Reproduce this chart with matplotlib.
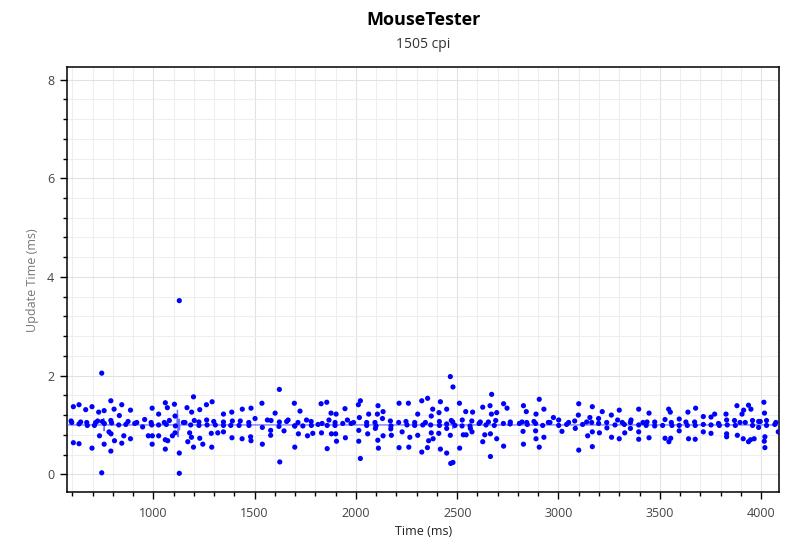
import numpy as np
import matplotlib
matplotlib.use("Agg")
import matplotlib.pyplot as plt
from matplotlib.ticker import MultipleLocator

plt.rcParams["font.family"] = ["Open Sans", "DejaVu Sans"]

TITLE = "MouseTester"
SUBTITLE = "1505 cpi"
X_LABEL = "Time (ms)"
Y_LABEL = "Update Time (ms)"

# update events: time (ms), update interval (ms)
time_ms = [
    # 575 - 1725 ms
    745, 605, 633, 666, 697, 730, 757, 790, 806, 832, 844, 887, 994, 1026, 1059, 1069,
    1104, 1107, 1166, 1189, 1198, 1229, 1262, 1290, 1346, 1387, 1439, 1482, 1536, 1601,
    1622, 1696, 1724,
    594, 597, 633, 641, 671, 674, 709, 715, 725, 748, 758, 790, 794, 829, 864, 875, 908,
    918, 947, 957, 989, 992, 1026, 1054, 1064, 1079, 1109, 1148, 1156, 1184, 1202, 1225,
    1225, 1263, 1265, 1298, 1306, 1346, 1346, 1390, 1382, 1429, 1423, 1471, 1472, 1502,
    1538, 1563, 1581, 1622, 1620, 1658, 1665, 1714, 1698,
    781, 791, 734, 854, 887, 808, 757, 844, 605, 633, 697, 790, 975, 995, 994, 1026, 1059,
    1071, 1059, 1094, 1107, 1179, 1188, 1170, 1229, 1198, 1244, 1286, 1288, 1318, 1346,
    1388, 1438, 1480, 1482, 1538, 1579, 1579, 1645, 1698, 1698, 1716, 1624, 1128, 745,
    1128, 1128,
    # 1725 - 2850 ms
    2466, 2479, 2670, 1828, 1856, 2022, 2012, 2109, 2213, 2259, 2325, 2354, 2417, 2379,
    1946, 1877, 1902, 2134, 2106, 2063, 2017, 2131, 2305, 2372, 2410, 2448, 2511, 2542,
    2576, 2626, 2662, 2669, 2695, 2729, 2746, 2827, 2841, 1756, 1779, 1867, 1958, 2525,
    2572, 2690,
    1738, 1780, 1813, 1833, 1858, 1897, 1897, 1935, 1976, 1988, 2053, 2053, 2094, 2099,
    2170, 2173, 2211, 2247, 2252, 2290, 2290, 2330, 2343, 2369, 2412, 2412, 2448, 2471,
    2478, 2489, 2524, 2563, 2608, 2614, 2642, 2654, 2683, 2728, 2761, 2762, 2807, 2820,
    2843, 2846,
    2825, 2827, 2729, 2695, 2664, 2636, 2626, 2664, 2573, 2565, 2530, 2544, 2512, 2466,
    2468, 2479, 2448, 2448, 2417, 2409, 2381, 2372, 2359, 2353, 2325, 2305, 2266, 2261,
    2228, 2213, 2175, 2172, 2134, 2111, 2108, 2096, 2058, 2014, 2014, 2022, 1948, 1904,
    1900, 1879, 1858, 1830, 1787, 1761,
    # 2850 - 4090 ms
    2905, 2889, 2928, 3100, 3098, 3167, 3216, 3261, 3300, 3396, 3447, 3544, 3552, 3639,
    3677, 3715, 3753, 3771, 3827, 3881, 3906, 3914, 3938, 3950, 4014, 4017, 2975, 3001,
    3155, 3198, 3292, 3358, 3526, 3596, 3830, 3869, 3958, 3988, 4027,
    2879, 2887, 2922, 2950, 2958, 3001, 3040, 3050, 3080, 3083, 3119, 3139, 3164, 3198,
    3238, 3279, 3315, 3325, 3355, 3396, 3417, 3437, 3433, 3475, 3475, 3514, 3557, 3560,
    3596, 3629, 3636, 3672, 3675, 3715, 3753, 3790, 3794, 3833, 3873, 3896, 3922, 3958,
    3996, 3988, 4027, 4068, 4073,
    2887, 2889, 2905, 2928, 3017, 3100, 3167, 3144, 3167, 3202, 3239, 3262, 3300, 3327,
    3355, 3396, 3396, 3447, 3526, 3545, 3554, 3596, 3642, 3675, 3715, 3753, 3830, 3830,
    3883, 3912, 3938, 3948, 3966, 4019, 4016, 4019, 4085,
]
update_ms = [
    2.05, 1.37, 1.41, 1.31, 1.37, 1.26, 1.29, 1.49, 1.32, 1.19, 1.41, 1.30, 1.34, 1.22, 1.45, 1.35,
    1.42, 1.18, 1.35, 1.26, 1.57, 1.31, 1.41, 1.47, 1.22, 1.26, 1.32, 1.34, 1.44, 1.24,
    1.72, 1.44, 1.28,
    1.08, 1.05, 1.02, 1.06, 1.05, 0.99, 0.99, 1.05, 1.08, 1.07, 1.03, 1.09, 1.04, 1.00, 1.01, 1.07, 1.03,
    1.05, 0.96, 1.11, 1.05, 1.00, 1.00, 1.05, 1.01, 1.09, 0.98, 1.05, 1.05, 1.00, 1.09, 1.06,
    0.99, 1.10, 1.00, 1.07, 1.00, 1.06, 0.99, 1.08, 0.99, 1.08, 0.99, 1.05, 0.99, 1.13,
    0.95, 1.10, 1.09, 1.06, 0.97, 1.07, 1.10, 1.05, 0.98,
    0.86, 0.82, 0.78, 0.78, 0.72, 0.68, 0.61, 0.63, 0.64, 0.62, 0.53, 0.47, 0.78, 0.78, 0.61, 0.78, 0.70,
    0.68, 0.51, 0.78, 0.84, 0.84, 0.75, 0.66, 0.73, 0.55, 0.61, 0.83, 0.55, 0.84, 0.86,
    0.74, 0.72, 0.76, 0.68, 0.61, 0.89, 0.79, 0.88, 0.98, 0.55, 0.82, 0.25, 0.43, 0.03,
    0.02, 3.52,
    1.98, 1.77, 1.62, 1.43, 1.46, 1.49, 1.41, 1.39, 1.44, 1.44, 1.49, 1.54, 1.47, 1.32,
    1.33, 1.24, 1.22, 1.27, 1.22, 1.22, 1.15, 1.13, 1.22, 1.18, 1.25, 1.32, 1.44, 1.27,
    1.26, 1.36, 1.39, 1.22, 1.25, 1.43, 1.34, 1.39, 1.27, 1.10, 1.07, 1.10, 1.10, 1.10,
    1.08, 1.09,
    0.98, 0.99, 1.01, 1.03, 0.99, 1.05, 0.99, 1.03, 1.03, 1.05, 1.05, 0.99, 1.05, 0.98,
    1.08, 0.98, 1.05, 1.07, 1.00, 1.05, 0.99, 1.00, 1.05, 1.00, 1.07, 0.99, 1.02, 1.09,
    1.06, 0.99, 0.98, 0.98, 1.03, 1.06, 1.00, 1.06, 0.99, 1.03, 1.02, 1.06, 1.03, 1.06,
    1.05, 1.01,
    0.87, 0.61, 0.57, 0.72, 0.82, 0.80, 0.66, 0.36, 0.86, 0.93, 0.80, 0.80, 0.53, 0.79,
    0.22, 0.24, 0.43, 0.93, 0.51, 0.83, 0.72, 0.84, 0.68, 0.54, 0.45, 0.79, 0.75, 0.55,
    0.86, 0.54, 0.79, 0.92, 0.78, 0.53, 0.69, 0.93, 0.82, 0.89, 0.67, 0.32, 0.74, 0.67,
    0.82, 0.82, 0.52, 0.84, 0.83, 0.78,
    1.52, 1.22, 1.32, 1.43, 1.20, 1.37, 1.27, 1.20, 1.30, 1.32, 1.24, 1.32, 1.26, 1.26,
    1.34, 1.17, 1.16, 1.22, 1.22, 1.39, 1.22, 1.30, 1.40, 1.32, 1.46, 1.24, 1.15, 1.10,
    1.15, 1.13, 1.10, 1.10, 1.11, 1.12, 1.10, 1.09, 1.09, 1.07, 1.09,
    1.07, 1.03, 0.99, 1.05, 1.05, 0.99, 1.01, 1.05, 1.08, 0.93, 1.01, 1.06, 1.05, 1.03,
    1.05, 1.00, 1.05, 1.01, 1.05, 1.00, 1.05, 1.06, 0.99, 1.06, 0.98, 0.99, 1.05, 0.99,
    0.99, 1.06, 0.99, 1.06, 0.99, 1.01, 1.00, 1.03, 0.99, 1.00, 0.99, 1.05, 1.05, 0.99,
    1.07, 0.95, 0.99, 1.01, 1.05,
    0.88, 0.72, 0.55, 0.75, 0.87, 0.49, 0.86, 0.78, 0.56, 0.84, 0.94, 0.75, 0.72, 0.84,
    0.93, 0.86, 0.71, 0.74, 0.73, 0.66, 0.73, 0.88, 0.72, 0.71, 0.86, 0.83, 0.82, 0.76,
    0.79, 0.72, 0.66, 0.70, 0.72, 0.76, 0.67, 0.54, 0.86,
]

# the dense 1 ms trace underneath the dots
trace_ms = [575, 752, 755, 757, 760, 1116, 1119, 1122, 1125, 1127, 1129, 1131,
            2470, 2474, 2478, 2482, 2486, 2490, 3082, 3086, 3090, 4090]
trace_update = [1.0, 1.0, 1.13, 0.88, 1.0, 1.0, 1.30, 0.76, 1.0, 1.12, 0.9, 1.0,
                1.0, 1.10, 0.92, 1.08, 0.94, 1.0, 1.0, 0.95, 1.0, 1.0]

fig = plt.figure(figsize=(8.0, 5.53), dpi=100)
ax = fig.add_axes([0.0841, 0.1098, 0.8900, 0.7685])

ax.plot(trace_ms, trace_update, color="#3b3bff", linewidth=0.9, alpha=0.75, zorder=3)
ax.scatter(time_ms, update_ms, s=14, color="#0000ff", edgecolors="none", zorder=4)

ax.set_xlim(575, 4090)
ax.set_ylim(-0.365, 8.25)

ax.xaxis.set_major_locator(MultipleLocator(500))
ax.xaxis.set_minor_locator(MultipleLocator(100))
ax.yaxis.set_major_locator(MultipleLocator(2))
ax.yaxis.set_minor_locator(MultipleLocator(0.4))

ax.grid(True, which="major", color="#e2e2e2", linewidth=0.8, zorder=0)
ax.grid(True, which="minor", color="#eeeeee", linewidth=0.8, zorder=0)
ax.set_axisbelow(True)

ax.tick_params(which="major", length=5, width=1.0, color="black",
               labelsize=9, labelcolor="#444444")
ax.tick_params(axis="x", which="major", pad=5.5)
ax.tick_params(axis="y", which="major", pad=4.5)
ax.tick_params(which="minor", length=3, width=1.0, color="black")
for sp in ax.spines.values():
    sp.set_linewidth(1.1)
    sp.set_color("black")

ax.set_xlabel(X_LABEL, fontsize=9, color="#222222", labelpad=4)
ax.set_ylabel(Y_LABEL, fontsize=9, color="#777777", labelpad=6)

cx = 0.0841 + 0.8900 / 2
fig.text(cx, 1 - 20 / 553, TITLE, ha="center", va="center",
         fontsize=13, fontweight="bold", color="black")
fig.text(cx, 1 - 45 / 553, SUBTITLE, ha="center", va="center",
         fontsize=10, color="#333333")

fig.savefig("out.png", dpi=100)
